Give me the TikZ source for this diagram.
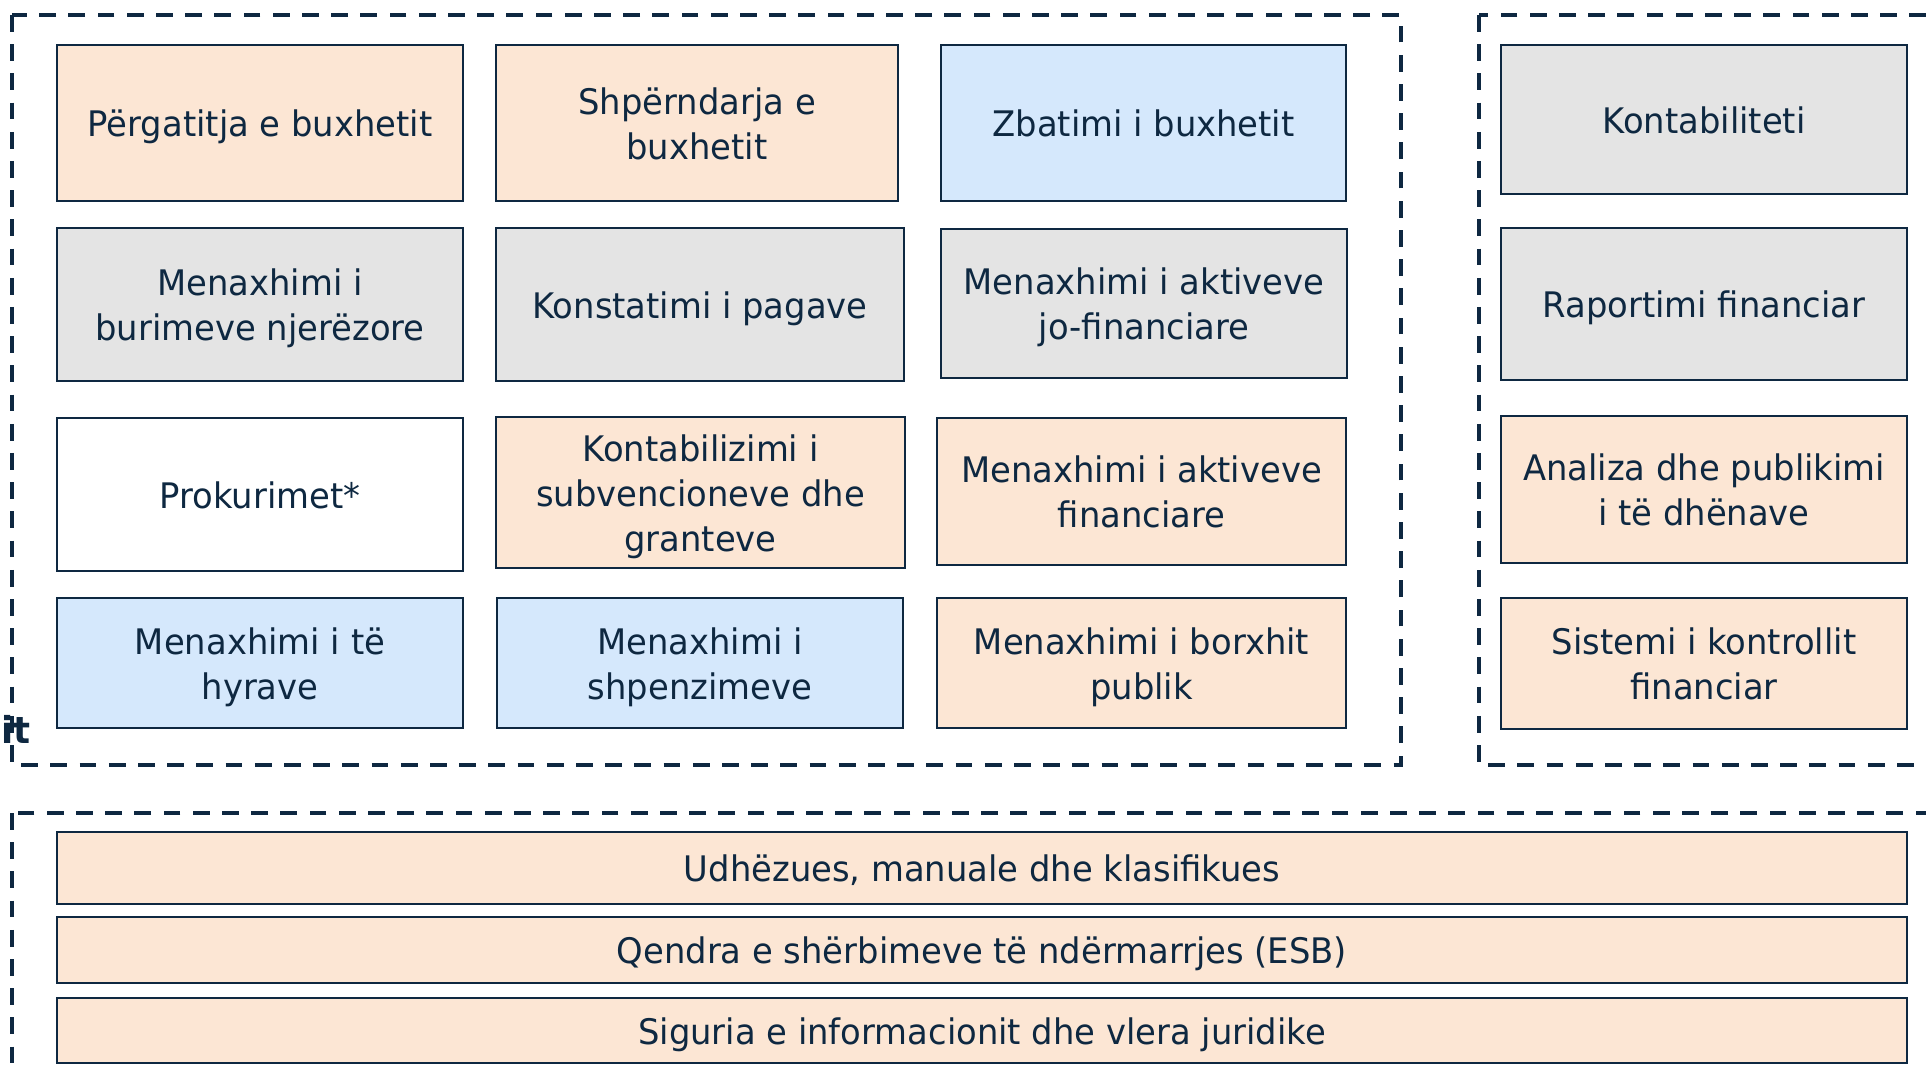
\documentclass[tikz,border=0pt]{standalone}
\usepackage{fontspec}
\setmainfont{DejaVu Sans}[FakeStretch=0.96]
\definecolor{navy}{HTML}{0E2841}
\definecolor{peach}{HTML}{FCE6D4}
\definecolor{skyblue}{HTML}{D5E8FC}
\definecolor{lightgray}{HTML}{E4E4E4}
\tikzset{
    box/.style={draw=navy, line width=1pt, inner sep=0pt, align=center, text=navy,
        font=\fontsize{17.6}{22.5}\selectfont, text height=18pt, text depth=4.4pt},
    twoline/.style={text height=40.5pt},
    threeline/.style={text height=63pt},
    peachbox/.style={box, fill=peach},
    bluebox/.style={box, fill=skyblue},
    graybox/.style={box, fill=lightgray},
    whitebox/.style={box, fill=white},
    dashbox/.style={draw=navy, line width=2pt, dash pattern={on 8.4pt off 6.2pt}},
}

\begin{document}
\begin{tikzpicture}[x=0.5pt,y=0.5pt,yscale=-1,xscale=1]
\useasboundingbox (0,0) rectangle (1926,1074);

% Text Node (cut at the left edge)
\node [anchor=base east, inner sep=0pt, text=navy, font=\fontsize{18.5}{20}\selectfont\bfseries] (cut) at (31,743) {it};

%Shape: Dashed frames
\draw [dashbox] (12,15) rectangle (1401,765);
\draw [dashbox] (1479,15) rectangle (1960,765);
\draw [dashbox] (12,813) rectangle (1960,1110);

% Row 1
\node [peachbox, minimum width=203pt, minimum height=78pt] (pergatitja) at (260,123) {Përgatitja e buxhetit};
\node [peachbox, twoline, minimum width=201pt, minimum height=78pt] (shperndarja) at (697,123) {Shpërndarja e\\buxhetit};
\node [bluebox, minimum width=202.5pt, minimum height=78pt] (zbatimi) at (1143.5,123) {Zbatimi i buxhetit};
\node [graybox, minimum width=203pt, minimum height=74.5pt] (kontabiliteti) at (1704,119.5) {Kontabiliteti};

% Row 2
\node [graybox, twoline, minimum width=203pt, minimum height=76.5pt] (burimet) at (260,304.5) {Menaxhimi i\\burimeve njerëzore};
\node [graybox, minimum width=204pt, minimum height=76.5pt] (pagat) at (700,304.5) {Konstatimi i pagave};
\node [graybox, twoline, minimum width=203pt, minimum height=74.5pt] (jofinanciare) at (1144,303.5) {Menaxhimi i aktiveve\\jo-financiare};
\node [graybox, minimum width=203pt, minimum height=76pt] (raportimi) at (1704,304) {Raportimi financiar};

% Row 3
\node [whitebox, minimum width=203pt, minimum height=76.5pt] (prokurimet) at (260,494.5) {Prokurimet*};
\node [peachbox, threeline, minimum width=204.5pt, minimum height=75.5pt] (subvencionet) at (700.5,492.5) {Kontabilizimi i\\subvencioneve dhe\\granteve};
\node [peachbox, twoline, minimum width=204.5pt, minimum height=73.5pt] (financiare) at (1141.5,491.5) {Menaxhimi i aktiveve\\financiare};
\node [peachbox, twoline, minimum width=203pt, minimum height=73.5pt] (analiza) at (1704,489.5) {Analiza dhe publikimi\\i të dhënave};

% Row 4
\node [bluebox, twoline, minimum width=203pt, minimum height=65pt] (hyrat) at (260,663) {Menaxhimi i të\\hyrave};
\node [bluebox, twoline, minimum width=203pt, minimum height=65pt] (shpenzimet) at (700,663) {Menaxhimi i\\shpenzimeve};
\node [peachbox, twoline, minimum width=204.5pt, minimum height=65pt] (borxhi) at (1141.5,663) {Menaxhimi i borxhit\\publik};
\node [peachbox, twoline, minimum width=203pt, minimum height=65.5pt] (kontrolli) at (1704,663.5) {Sistemi i kontrollit\\financiar};

% Bottom bars
\node [peachbox, minimum width=925pt, minimum height=36pt] (udhezues) at (982,868) {Udhëzues, manuale dhe klasifikues};
\node [peachbox, minimum width=925pt, minimum height=33pt] (esb) at (982,950) {Qendra e shërbimeve të ndërmarrjes (ESB)};
\node [peachbox, minimum width=925pt, minimum height=32.5pt] (siguria) at (982,1030.5) {Siguria e informacionit dhe vlera juridike};

\end{tikzpicture}
\end{document}
